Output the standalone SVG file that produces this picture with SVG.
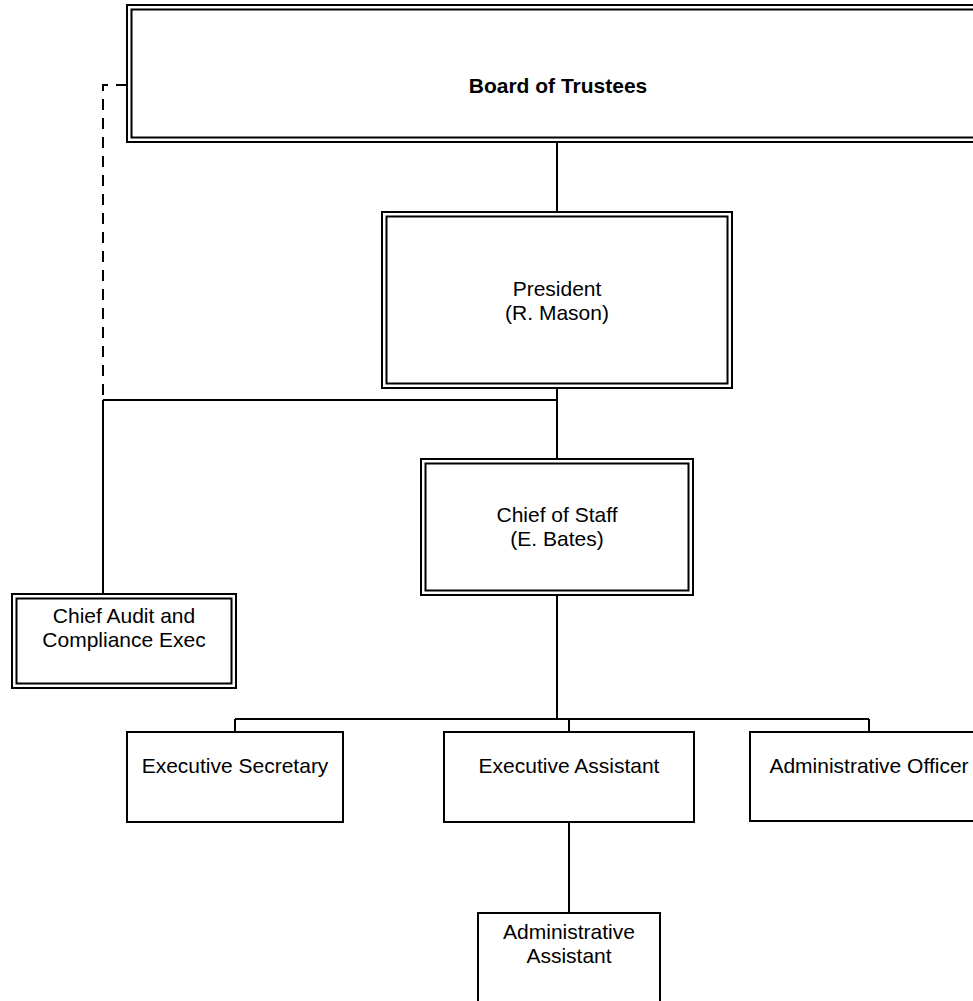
<svg xmlns="http://www.w3.org/2000/svg" width="973" height="1001" viewBox="0 0 973 1001">
<style>
.box{fill:#fff;stroke:#000;stroke-width:2}
.inner{fill:none;stroke:#000;stroke-width:2}
.ln{fill:none;stroke:#000;stroke-width:2}
.dash{fill:none;stroke:#000;stroke-width:2;stroke-dasharray:11 8}
text{font-family:"Liberation Sans",Arial,sans-serif;font-size:21px;fill:#000;text-anchor:middle}
.b{font-weight:bold}
</style>
<rect width="973" height="1001" fill="#fff"/>
<g id="connectors">
<path class="dash" d="M127,85 H103 V400"/>
<path class="ln" d="M557,142 V212"/>
<path class="ln" d="M103,400 H557 M557,388 V459"/>
<path class="ln" d="M103,400 V594"/>
<path class="ln" d="M557,595 V719 M235,719 H869 M235,719 V732 M569,719 V732 M869,719 V732"/>
<path class="ln" d="M569,822 V913"/>
</g>
<g id="board">
<rect class="box" x="127" y="5" width="864" height="137"/>
<rect class="inner" x="131.5" y="9.5" width="855" height="128"/>
<text class="b" x="558" y="93">Board of Trustees</text>
</g>
<g id="president">
<rect class="box" x="382" y="212" width="350" height="176"/>
<rect class="inner" x="386.5" y="216.5" width="341" height="167"/>
<text x="557" y="296">President</text>
<text x="557" y="320">(R. Mason)</text>
</g>
<g id="chief-of-staff">
<rect class="box" x="421" y="459" width="272" height="136"/>
<rect class="inner" x="425.5" y="463.5" width="263" height="127"/>
<text x="557" y="522">Chief of Staff</text>
<text x="557" y="546">(E. Bates)</text>
</g>
<g id="chief-audit">
<rect class="box" x="12" y="594" width="224" height="94"/>
<rect class="inner" x="16.5" y="598.5" width="215" height="85"/>
<text x="124" y="623">Chief Audit and</text>
<text x="124" y="647">Compliance Exec</text>
</g>
<g id="exec-secretary">
<rect class="box" x="127" y="732" width="216" height="90"/>
<text x="235" y="773">Executive Secretary</text>
</g>
<g id="exec-assistant">
<rect class="box" x="444" y="732" width="250" height="90"/>
<text x="569" y="773">Executive Assistant</text>
</g>
<g id="admin-officer">
<rect class="box" x="750" y="732" width="238" height="89"/>
<text x="869" y="773">Administrative Officer</text>
</g>
<g id="admin-assistant">
<rect class="box" x="478" y="913" width="182" height="100"/>
<text x="569" y="939">Administrative</text>
<text x="569" y="963">Assistant</text>
</g>
</svg>
